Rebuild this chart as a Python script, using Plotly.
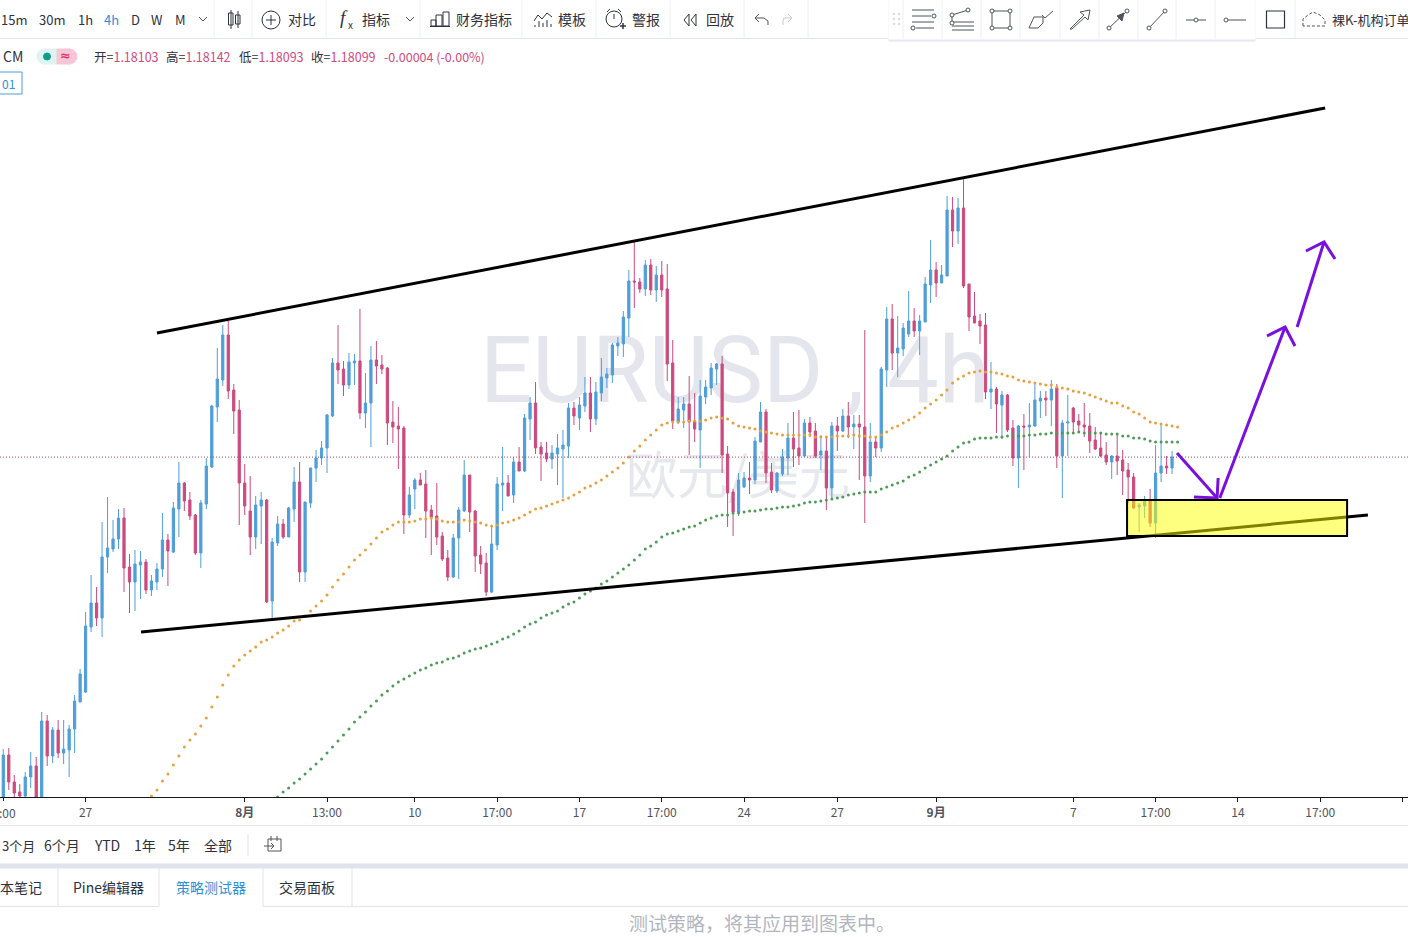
"""EURUSD 4h chart with channel, demand box and projection arrows, plus the terminal's chrome."""

import plotly.graph_objects as go

W, H = 1408, 937
PLOT_TOP, PLOT_BOTTOM = 40, 797

# Quotes are kept in pips above the lowest price on screen.
PRICE_BASE = 1.1470
PIP = 0.0001

HIGH = [48, 49, 22, 13, 25, 45, 40, 85, 82, 70,
        77, 77, 72, 102, 128, 185, 222, 210, 275, 300,
        277, 288, 289, 243, 247, 246, 238, 222, 234, 284,
        263, 295, 335, 315, 305, 283, 297, 339, 392, 449,
        472, 478, 413, 397, 333, 321, 301, 305, 298, 259,
        281, 278, 290, 330, 335, 295, 329, 347, 356, 383,
        439, 472, 436, 444, 443, 488, 424, 451, 456, 442,
        430, 396, 390, 371, 310, 319, 324, 327, 292, 314,
        265, 247, 263, 290, 337, 322, 287, 251, 244, 271,
        320, 350, 322, 340, 350, 383, 400, 415, 355, 355,
        352, 363, 367, 394, 395, 400, 420, 420, 415, 439,
        429, 454, 460, 486, 527, 556, 519, 537, 538, 531,
        536, 533, 457, 400, 400, 421, 404, 417, 417, 434,
        434, 441, 351, 308, 324, 325, 335, 360, 395, 388,
        334, 325, 348, 374, 385, 387, 378, 380, 374, 362,
        361, 375, 380, 388, 395, 382, 382, 467, 374, 360,
        430, 490, 493, 481, 474, 506, 489, 482, 520, 557,
        535, 532, 601, 600, 599, 620, 513, 505, 483, 484,
        435, 410, 406, 403, 377, 372, 383, 394, 415, 406,
        406, 417, 413, 377, 402, 390, 383, 394, 384, 370,
        365, 355, 342, 364, 347, 334, 324, 294, 301, 308,
        352, 374, 341, 346]
BODY_TOP = [42, 42, 15, 5, 20, 31, 31, 76, 76, 67,
            67, 48, 68, 96, 123, 171, 194, 194, 240, 249,
            258, 279, 279, 230, 233, 235, 235, 216, 228, 257,
            257, 289, 314, 314, 297, 282, 294, 331, 391, 418,
            462, 462, 407, 387, 314, 286, 292, 297, 297, 255,
            273, 273, 289, 315, 315, 295, 329, 339, 349, 382,
            434, 434, 428, 435, 436, 436, 394, 437, 437, 432,
            429, 375, 371, 369, 302, 317, 317, 313, 287, 281,
            261, 239, 259, 287, 322, 322, 286, 242, 234, 253,
            313, 314, 314, 335, 335, 379, 394, 394, 350, 344,
            344, 349, 352, 389, 389, 392, 404, 404, 405, 420,
            423, 452, 454, 480, 516, 516, 515, 532, 532, 522,
            522, 508, 434, 388, 393, 393, 376, 401, 410, 429,
            433, 433, 343, 305, 317, 319, 319, 356, 385, 385,
            325, 324, 340, 359, 359, 349, 374, 374, 366, 346,
            346, 371, 371, 381, 381, 373, 373, 370, 355, 355,
            428, 478, 478, 449, 469, 476, 476, 476, 513, 527,
            527, 522, 587, 587, 589, 589, 513, 481, 476, 472,
            408, 408, 402, 402, 369, 371, 371, 372, 397, 399,
            399, 408, 409, 374, 375, 389, 376, 372, 371, 357,
            349, 342, 341, 341, 337, 327, 320, 292, 297, 297,
            324, 331, 331, 340]
BODY_BOTTOM = [-8, 15, 4, 1, 1, 20, -3, -3, 41, 41,
               44, 44, 47, 68, 95, 105, 170, 179, 179, 240,
               248, 258, 229, 215, 215, 232, 207, 207, 215, 228,
               246, 245, 288, 296, 281, 244, 244, 293, 330, 390,
               417, 406, 386, 314, 291, 260, 260, 291, 195, 196,
               254, 260, 260, 288, 225, 225, 294, 329, 339, 349,
               381, 427, 412, 412, 434, 384, 384, 394, 431, 428,
               374, 370, 368, 282, 282, 308, 312, 286, 280, 260,
               238, 220, 220, 259, 286, 285, 241, 233, 205, 205,
               252, 312, 301, 302, 326, 326, 378, 349, 343, 338,
               338, 343, 348, 351, 381, 379, 391, 378, 378, 404,
               419, 422, 451, 453, 479, 515, 508, 508, 507, 507,
               507, 433, 376, 375, 387, 375, 368, 367, 400, 409,
               428, 342, 304, 285, 285, 310, 317, 317, 355, 324,
               307, 306, 323, 339, 348, 341, 341, 365, 341, 342,
               309, 309, 366, 366, 370, 370, 370, 321, 321, 349,
               349, 427, 444, 444, 448, 463, 466, 466, 475, 512,
               514, 514, 521, 566, 566, 511, 480, 474, 471, 405,
               405, 393, 392, 367, 339, 339, 370, 370, 371, 396,
               397, 397, 341, 341, 374, 375, 372, 370, 356, 348,
               341, 335, 335, 336, 326, 320, 289, 290, 291, 274,
               274, 324, 329, 329]
LOW = [-18, 7, 0, -1, -3, 9, -5, -5, 31, 34,
       39, 33, 20, 44, 95, 104, 165, 171, 160, 224,
       245, 248, 205, 184, 186, 198, 203, 201, 207, 220,
       211, 244, 260, 286, 277, 242, 229, 288, 329, 375,
       411, 398, 363, 272, 282, 242, 248, 253, 194, 179,
       251, 258, 260, 275, 215, 215, 289, 315, 332, 324,
       380, 413, 401, 408, 412, 378, 369, 350, 413, 423,
       352, 354, 328, 263, 279, 288, 312, 259, 242, 252,
       236, 216, 219, 218, 285, 265, 225, 223, 201, 204,
       247, 286, 301, 294, 326, 325, 357, 343, 316, 335,
       328, 312, 299, 339, 372, 367, 385, 365, 372, 396,
       409, 414, 441, 440, 460, 489, 504, 501, 502, 495,
       500, 416, 368, 373, 369, 342, 355, 329, 393, 402,
       412, 324, 270, 261, 281, 309, 303, 313, 355, 314,
       304, 304, 321, 322, 330, 332, 340, 360, 339, 327,
       287, 297, 346, 365, 359, 348, 317, 274, 315, 340,
       345, 410, 427, 420, 441, 460, 460, 442, 475, 494,
       500, 514, 521, 550, 553, 509, 466, 474, 453, 398,
       388, 364, 358, 365, 331, 309, 327, 340, 370, 379,
       381, 371, 329, 299, 341, 365, 364, 360, 344, 347,
       340, 332, 318, 322, 302, 294, 288, 265, 279, 270,
       259, 315, 323, 323]
# One letter per bar: b = up (blue), r = down (pink).
BAR_SIDE = ("brrrbbrbrb" "rbbbbbbrbb" "bbrrbbrbbb" "rbbrrrbbbb" "brrrrrbbrb"
            "brbbrbbbbb" "brrbbrbbrr" "rrrrbbrrrr" "rrbbbrrrrb" "bbrbrbbrrr"
            "bbbbrbbrbb" "bbbbbrrbrb" "rrrbbrrbbb" "brrrbbrbbr" "rbbbrrbrrb"
            "rbrbrbrrbr" "bbrbbbrbbb" "rbbrbrrrrr" "brbrrbrbbb" "rbrbbrrrrr"
            "rrbrrrrbbr" "bbrb")

ORANGE_START = 27
ORANGE_MA = [1, 7, 16, 23, 32, 41, 50, 57, 63, 71, 79, 90, 100, 112, 122, 131, 137, 142, 146, 150,
             155, 157, 160, 164, 167, 171, 176, 177, 181, 186, 191, 196, 202, 210, 217, 223, 230,
             237, 242, 247, 253, 259, 265, 268, 272, 275, 275, 275, 276, 278, 278, 279, 278, 276,
             275, 275, 275, 277, 276, 275, 274, 272, 271, 272, 274, 275, 277, 279, 282, 285, 288,
             289, 291, 293, 295, 297, 299, 302, 305, 309, 311, 314, 317, 321, 325, 329, 334, 340,
             346, 351, 357, 362, 367, 372, 374, 375, 375, 375, 376, 376, 376, 377, 379, 380, 379,
             378, 374, 371, 370, 369, 368, 366, 365, 364, 363, 362, 362, 362, 362, 362, 362, 360,
             360, 360, 360, 361, 361, 361, 362, 361, 361, 360, 360, 362, 365, 369, 371, 374, 377,
             380, 384, 389, 393, 397, 402, 407, 414, 418, 421, 424, 425, 426, 425, 425, 424, 423,
             421, 420, 417, 416, 415, 414, 413, 412, 412, 410, 409, 408, 406, 405, 404, 402, 400,
             398, 396, 394, 394, 391, 389, 385, 383, 379, 375, 374, 373, 372, 371, 370]
GREEN_START = 50
GREEN_MA = [0, 5, 9, 14, 18, 23, 28, 33, 38, 44, 50, 56, 62, 68, 75, 80, 85, 91, 96, 102,
            106, 111, 115, 118, 121, 124, 127, 129, 132, 134, 135, 138, 139, 141, 144, 146, 148,
            149, 151, 153, 155, 158, 160, 163, 166, 170, 173, 175, 179, 182, 184, 186, 190, 193,
            195, 199, 203, 206, 209, 213, 216, 220, 224, 228, 232, 237, 242, 248, 251, 255, 260,
            263, 264, 266, 268, 270, 271, 274, 277, 279, 281, 282, 282, 284, 284, 285, 286, 286,
            287, 288, 288, 289, 290, 290, 291, 292, 294, 295, 295, 296, 297, 298, 299, 300, 302,
            303, 304, 305, 305, 305, 308, 310, 312, 314, 316, 320, 322, 325, 329, 332, 335, 338,
            341, 346, 350, 354, 355, 358, 359, 359, 359, 360, 360, 361, 362, 361, 361, 362, 362,
            363, 363, 364, 364, 364, 364, 364, 365, 364, 364, 364, 364, 363, 363, 363, 361, 361,
            359, 359, 358, 356, 355, 355, 355, 355, 355]

LAST_PRICE = 1.18099

# Hand-drawn objects, bar number and pips.
UPPER_LINE_X, UPPER_LINE_Y = [28.0, 240.9], [464, 689]
LOWER_LINE_X, LOWER_LINE_Y = [25.1, 248.7], [165, 282]
BOX_X, BOX_Y = [204.8, 244.9], [261, 297]
ARROW_X = [213.9, 221.2, None, 217.0, 221.2, 221.4, None,
           221.7, 233.6, None, 230.3, 233.6, 235.4, None,
           235.8, 240.7, None, 237.4, 240.7, 242.7]
ARROW_Y = [344, 299, None, 300, 299, 319, None,
           299, 470, None, 461, 470, 451, None,
           470, 555, None, 546, 555, 538]

TICK_BARS = [15, 44, 59, 75, 90, 105, 120, 135, 152, 170, 195, 210, 225, 240, 255]
TICK_LABELS = ["27", "<b>8月</b>", "13:00", "10", "17:00", "17", "17:00", "24", "27",
               "<b>9月</b>", "7", "17:00", "14", "17:00", "21"]

BLUE = "#4f9ed9"
PINK = "#cc4a7e"
INK = "#2e3140"
CJK = "Noto Sans CJK SC"
LINE_GREY = "#e0e3eb"


def price(pips):
    return [None if p is None else PRICE_BASE + p * PIP for p in pips]


bars = list(range(len(HIGH)))
opens = [b if s == "b" else t for t, b, s in zip(BODY_TOP, BODY_BOTTOM, BAR_SIDE)]
closes = [t if s == "b" else b for t, b, s in zip(BODY_TOP, BODY_BOTTOM, BAR_SIDE)]

fig = go.Figure()

# Watermark sits on the base axes so that the candles on the overlay axes cover it.
fig.add_trace(go.Scatter(x=[133.3], y=price([418]), mode="text", text=["EURUSD , 4h"],
                         textfont=dict(family="Roboto", size=92, color="#e5e6ed"),
                         textposition="middle center", xaxis="x", yaxis="y", hoverinfo="skip"))
fig.add_trace(go.Scatter(x=[133.9], y=price([316]), mode="text", text=["欧元/美元"],
                         textfont=dict(family=CJK, size=51, color="#e7e8ee"),
                         textposition="middle center", xaxis="x", yaxis="y", hoverinfo="skip"))

fig.add_trace(go.Candlestick(
    x=bars, open=price(opens), high=price(HIGH), low=price(LOW), close=price(closes),
    increasing=dict(line=dict(color=BLUE, width=1), fillcolor=BLUE),
    decreasing=dict(line=dict(color=PINK, width=1), fillcolor=PINK),
    whiskerwidth=0, xaxis="x2", yaxis="y2"))

fig.add_trace(go.Scatter(x=[ORANGE_START + i for i in range(len(ORANGE_MA))], y=price(ORANGE_MA),
                         mode="markers", marker=dict(size=3, color="#e6a13f"),
                         xaxis="x2", yaxis="y2"))
fig.add_trace(go.Scatter(x=[GREEN_START + i for i in range(len(GREEN_MA))], y=price(GREEN_MA),
                         mode="markers", marker=dict(size=3, color="#4f9a58"),
                         xaxis="x2", yaxis="y2"))

for line_x, line_y in [(UPPER_LINE_X, UPPER_LINE_Y), (LOWER_LINE_X, LOWER_LINE_Y)]:
    fig.add_trace(go.Scatter(x=line_x, y=price(line_y), mode="lines",
                             line=dict(color="black", width=3), xaxis="x2", yaxis="y2"))
fig.add_trace(go.Scatter(x=ARROW_X, y=price(ARROW_Y), mode="lines", connectgaps=False,
                         line=dict(color="#7a10dd", width=3), xaxis="x2", yaxis="y2"))

shapes = [
    dict(type="line", xref="paper", yref="y2", x0=0, x1=1, y0=LAST_PRICE, y1=LAST_PRICE,
         line=dict(color="#a34a74", width=1, dash="1px,2px")),
    dict(type="rect", xref="x2", yref="y2", x0=BOX_X[0], x1=BOX_X[1],
         y0=price(BOX_Y)[0], y1=price(BOX_Y)[1],
         fillcolor="rgba(255,255,0,0.5)", line=dict(color="black", width=2)),
]
notes = []


# Everything below is page furniture, placed in screen pixels.
def fx(x):
    return x / W


def fy(y):
    return 1 - y / H


def seg(x0, y0, x1, y1, color=INK, width=1, dash=None):
    shapes.append(dict(type="line", xref="paper", yref="paper", x0=fx(x0), x1=fx(x1),
                       y0=fy(y0), y1=fy(y1), line=dict(color=color, width=width, dash=dash)))


def box(x0, y0, x1, y1, fill="rgba(0,0,0,0)", color=INK, width=1):
    shapes.append(dict(type="rect", xref="paper", yref="paper", x0=fx(x0), x1=fx(x1),
                       y0=fy(y0), y1=fy(y1), fillcolor=fill, line=dict(color=color, width=width)))


def dot(cx, cy, r, fill="white", color=INK, width=1):
    shapes.append(dict(type="circle", xref="paper", yref="paper", x0=fx(cx - r), x1=fx(cx + r),
                       y0=fy(cy - r), y1=fy(cy + r), fillcolor=fill, line=dict(color=color, width=width)))


def poly(points, fill=None, color=INK, width=1, dash=None):
    path = "M " + " L ".join(f"{fx(x):.5f} {fy(y):.5f}" for x, y in points)
    shape = dict(type="path", xref="paper", yref="paper", path=path + (" Z" if fill else ""),
                 line=dict(color=color, width=width, dash=dash))
    if fill:
        shape["fillcolor"] = fill
    shapes.append(shape)


def label(x, y, text, size=14, color=INK, anchor="center", family=CJK):
    notes.append(dict(xref="paper", yref="paper", x=fx(x), y=fy(y), text=text, showarrow=False,
                      xanchor=anchor, yanchor="middle", align=anchor,
                      font=dict(family=family, size=size, color=color)))


def chevron(x, y):
    poly([(x - 4, y - 2), (x, y + 2), (x + 4, y - 2)], color="#50535e")


# top toolbar
seg(0, 38.5, W, 38.5, LINE_GREY)
for sep_x in [214, 252, 326, 420, 522, 596, 670, 744, 808]:
    seg(sep_x, 0, sep_x, 38, "#eceef3")
for text, x, color in [("15m", 14, INK), ("30m", 52, INK), ("1h", 85, INK), ("4h", 111, "#2f8fd6"),
                       ("D", 135, INK), ("W", 157, INK), ("M", 180, INK)]:
    label(x, 19, text, size=13, color=color)
for text, x in [("对比", 302), ("指标", 376), ("财务指标", 484), ("模板", 572), ("警报", 646), ("回放", 720)]:
    label(x, 19, text)
chevron(203, 19)
chevron(410, 19)

# candle type icon
box(228.5, 13, 233, 25)
seg(231, 10, 231, 29)
box(235.5, 15, 240, 24)
seg(238, 11, 238, 28)
# compare
dot(271, 20, 9, fill="rgba(0,0,0,0)")
seg(266, 20, 276, 20)
seg(271, 15, 271, 25)
# indicators
label(344, 18, "<i>f</i>", size=19, family="Liberation Serif")
label(350, 25, "x", size=10)
# financials
box(431, 20, 436, 26)
box(436, 15, 442, 26)
box(443, 12, 449, 26)
seg(430, 26.5, 450, 26.5)
# templates
poly([(534, 21), (538, 15), (542, 19), (547, 13), (552, 17)])
for bar_x, bar_top in [(535, 25), (539, 21), (543, 23), (547, 20), (551, 24)]:
    seg(bar_x, bar_top, bar_x, 27)
# alarm
dot(614, 19, 8, fill="rgba(0,0,0,0)")
seg(607, 12, 610, 9)
seg(618, 9, 621, 12)
seg(614, 14, 614, 19)
seg(620, 26, 626, 26, width=1.5)
seg(623, 23, 623, 29, width=1.5)
# replay
poly([(689, 14), (684, 20), (689, 26), (689, 14)])
poly([(696, 14), (691, 20), (696, 26), (696, 14)])
# undo / redo
poly([(759, 14), (755, 18), (759, 22)], color="#50535e")
poly([(755, 18), (764, 18), (768, 21), (768, 25)], color="#50535e")
poly([(788, 14), (792, 18), (788, 22)], color="#c8cad2")
poly([(792, 18), (784, 18), (783, 21), (783, 25)], color="#c8cad2")

# floating drawing toolbar
box(889, 0, 1255, 41, fill="#e6e8ee", color="#e6e8ee")
box(889, 0, 1255, 39, fill="white", color="white")
for sep_x in [903, 942, 981, 1020, 1060, 1099, 1138, 1176, 1215]:
    seg(sep_x, 0, sep_x, 39, "#eceef3")
for grip_y in [14, 19, 24]:
    dot(894, grip_y, 0.8, fill="#d6d8e0", color="#d6d8e0")
    dot(899, grip_y, 0.8, fill="#d6d8e0", color="#d6d8e0")
# parallel lines
seg(912, 10, 934, 10, "#50535e")
seg(912, 16, 931, 16, "#50535e")
seg(912, 22, 934, 22, "#50535e")
seg(916, 28, 934, 28, "#50535e")
dot(934, 16, 2, color="#50535e")
dot(913, 28, 2, color="#50535e")
# fib
seg(952, 22, 974, 22, "#50535e")
seg(952, 26, 974, 26, "#50535e")
seg(952, 30, 974, 30, "#50535e")
seg(952, 15, 968, 10, "#50535e")
seg(952, 15, 952, 23, "#50535e")
dot(952, 15, 2, color="#50535e")
dot(968, 10, 2, color="#50535e")
dot(952, 23, 2, color="#50535e")
# rectangle
box(992, 11, 1010, 28, color="#50535e")
for corner_x, corner_y in [(992, 11), (1010, 11), (992, 28), (1010, 28)]:
    dot(corner_x, corner_y, 2, color="#50535e")
# brush
poly([(1029, 28), (1034, 17), (1043, 17), (1043, 23), (1038, 28), (1029, 28)], color="#50535e")
poly([(1042, 15), (1045, 18), (1053, 11)], color="#50535e")
# arrow outline
poly([(1070, 29), (1084, 15), (1080, 12), (1090, 10), (1088, 20), (1085, 17), (1072, 29), (1070, 29)],
     color="#50535e")
# ray with arrow
seg(1109, 28, 1127, 11, "#50535e")
poly([(1117, 16), (1124, 13), (1122, 21), (1117, 16)], fill="#50535e", color="#50535e")
dot(1109, 28, 2, color="#50535e")
dot(1127, 11, 2, color="#50535e")
# segment
seg(1149, 28, 1165, 11, "#50535e")
dot(1149, 28, 2, color="#50535e")
dot(1165, 11, 2, color="#50535e")
# horizontal line
seg(1186, 20, 1206, 20, "#50535e")
dot(1196, 20, 2, color="#50535e")
# horizontal ray
seg(1226, 20, 1246, 20, "#50535e")
dot(1226, 20, 2, color="#50535e")

box(1266.5, 11, 1284.5, 28, color="#2e3140", width=1.2)
seg(1295, 0, 1295, 38, "#eceef3")
poly([(1303, 26), (1303, 19), (1308, 15), (1313, 12), (1320, 15), (1325, 20), (1325, 26), (1303, 26)],
     color="#50535e", dash="3px,2px")
label(1330, 19, "裸K-机构订单", size=13, anchor="left")

# legend row
label(1, 56, "CM", size=14, anchor="left")
dot(44.5, 56.5, 7.5, fill="#dff3f0", color="#dff3f0")
box(44.5, 49, 57, 64, fill="#dff3f0", color="#dff3f0")
dot(69.5, 56.5, 7.5, fill="#f9c6d8", color="#f9c6d8")
box(57, 49, 69.5, 64, fill="#f9c6d8", color="#f9c6d8")
dot(47, 56.5, 3.5, fill="#0f9d8a", color="#0f9d8a")
label(65, 56, "<b>≈</b>", size=13, color="#d8356f", family="DejaVu Sans")
VALUE = '<span style="color:#cf4a80">{}</span>'
for field, quote, x in [("开=", "1.18103", 92), ("高=", "1.18142", 164),
                        ("低=", "1.18093", 237), ("收=", "1.18099", 309)]:
    label(x, 56.5, field + VALUE.format(quote), size=12.5, anchor="left")
label(382, 56.5, VALUE.format("-0.00004 (-0.00%)"), size=12.5, anchor="left")
box(-3, 72, 22, 94, color="#4f9ed9")
label(8, 83, "01", size=12, color="#2f8fd6")

# the first time label, with its hour cut off at the window edge
label(18, 812, ":00", size=12, color="#50535e", anchor="right")
seg(3.5, 797, 3.5, 801, "#131722")

# range bar
seg(0, 825.5, W, 825.5, LINE_GREY)
label(0, 845, "3个月", size=13, anchor="left")
for text, x in [("6个月", 62), ("YTD", 107), ("1年", 145), ("5年", 179), ("全部", 218)]:
    label(x, 845, text)
seg(248, 834, 248, 856, LINE_GREY)
box(268, 839, 281, 851, color="#50535e")
seg(271, 836, 271, 841, "#50535e")
seg(277, 836, 277, 841, "#50535e")
seg(264, 846, 274, 846, "#50535e")
poly([(271, 843), (274, 846), (271, 849)], color="#50535e")

# bottom tabs
box(0, 864, W, 868, fill="#e0e3eb", color="#e0e3eb")
seg(0, 906.5, 159, 906.5, LINE_GREY)
seg(263, 906.5, W, 906.5, LINE_GREY)
for sep_x in [58, 159, 263, 352]:
    seg(sep_x, 868, sep_x, 906, LINE_GREY)
label(21, 887, "本笔记")
label(109, 887, "Pine编辑器")
label(211, 887, "策略测试器", color="#2f8fd6")
label(307, 887, "交易面板")
label(762, 922, "测试策略，将其应用到图表中。", size=19, color="#b2b5be")

plot_domain = [1 - PLOT_BOTTOM / H, 1 - PLOT_TOP / H]
x_range = [-0.6, 256.0]
y_range = [PRICE_BASE, PRICE_BASE + (PLOT_BOTTOM - PLOT_TOP) * PIP]

fig.update_layout(
    width=W, height=H, margin=dict(l=0, r=0, t=0, b=0),
    paper_bgcolor="white", plot_bgcolor="white",
    showlegend=False, hovermode=False, dragmode=False,
    boxgap=0.42,
    xaxis=dict(domain=[0, 1], range=x_range, tickmode="array", tickvals=TICK_BARS, ticktext=TICK_LABELS,
               ticks="outside", ticklen=4, tickwidth=1, tickcolor="#131722", showgrid=False,
               zeroline=False, showline=True, linecolor="#131722", linewidth=1, ticklabelstandoff=1,
               tickfont=dict(family=CJK, size=12, color="#50535e")),
    yaxis=dict(domain=plot_domain, range=y_range, visible=False, showgrid=False, zeroline=False),
    xaxis2=dict(domain=[0, 1], range=x_range, overlaying="x", visible=False, showgrid=False,
                zeroline=False, rangeslider=dict(visible=False)),
    yaxis2=dict(domain=plot_domain, range=y_range, overlaying="y", visible=False, showgrid=False,
                zeroline=False),
    shapes=shapes,
    annotations=notes,
)

fig.write_html("out.html", config={"displayModeBar": False},
               post_script="document.body.style.margin='0';document.body.style.overflow='hidden';")
